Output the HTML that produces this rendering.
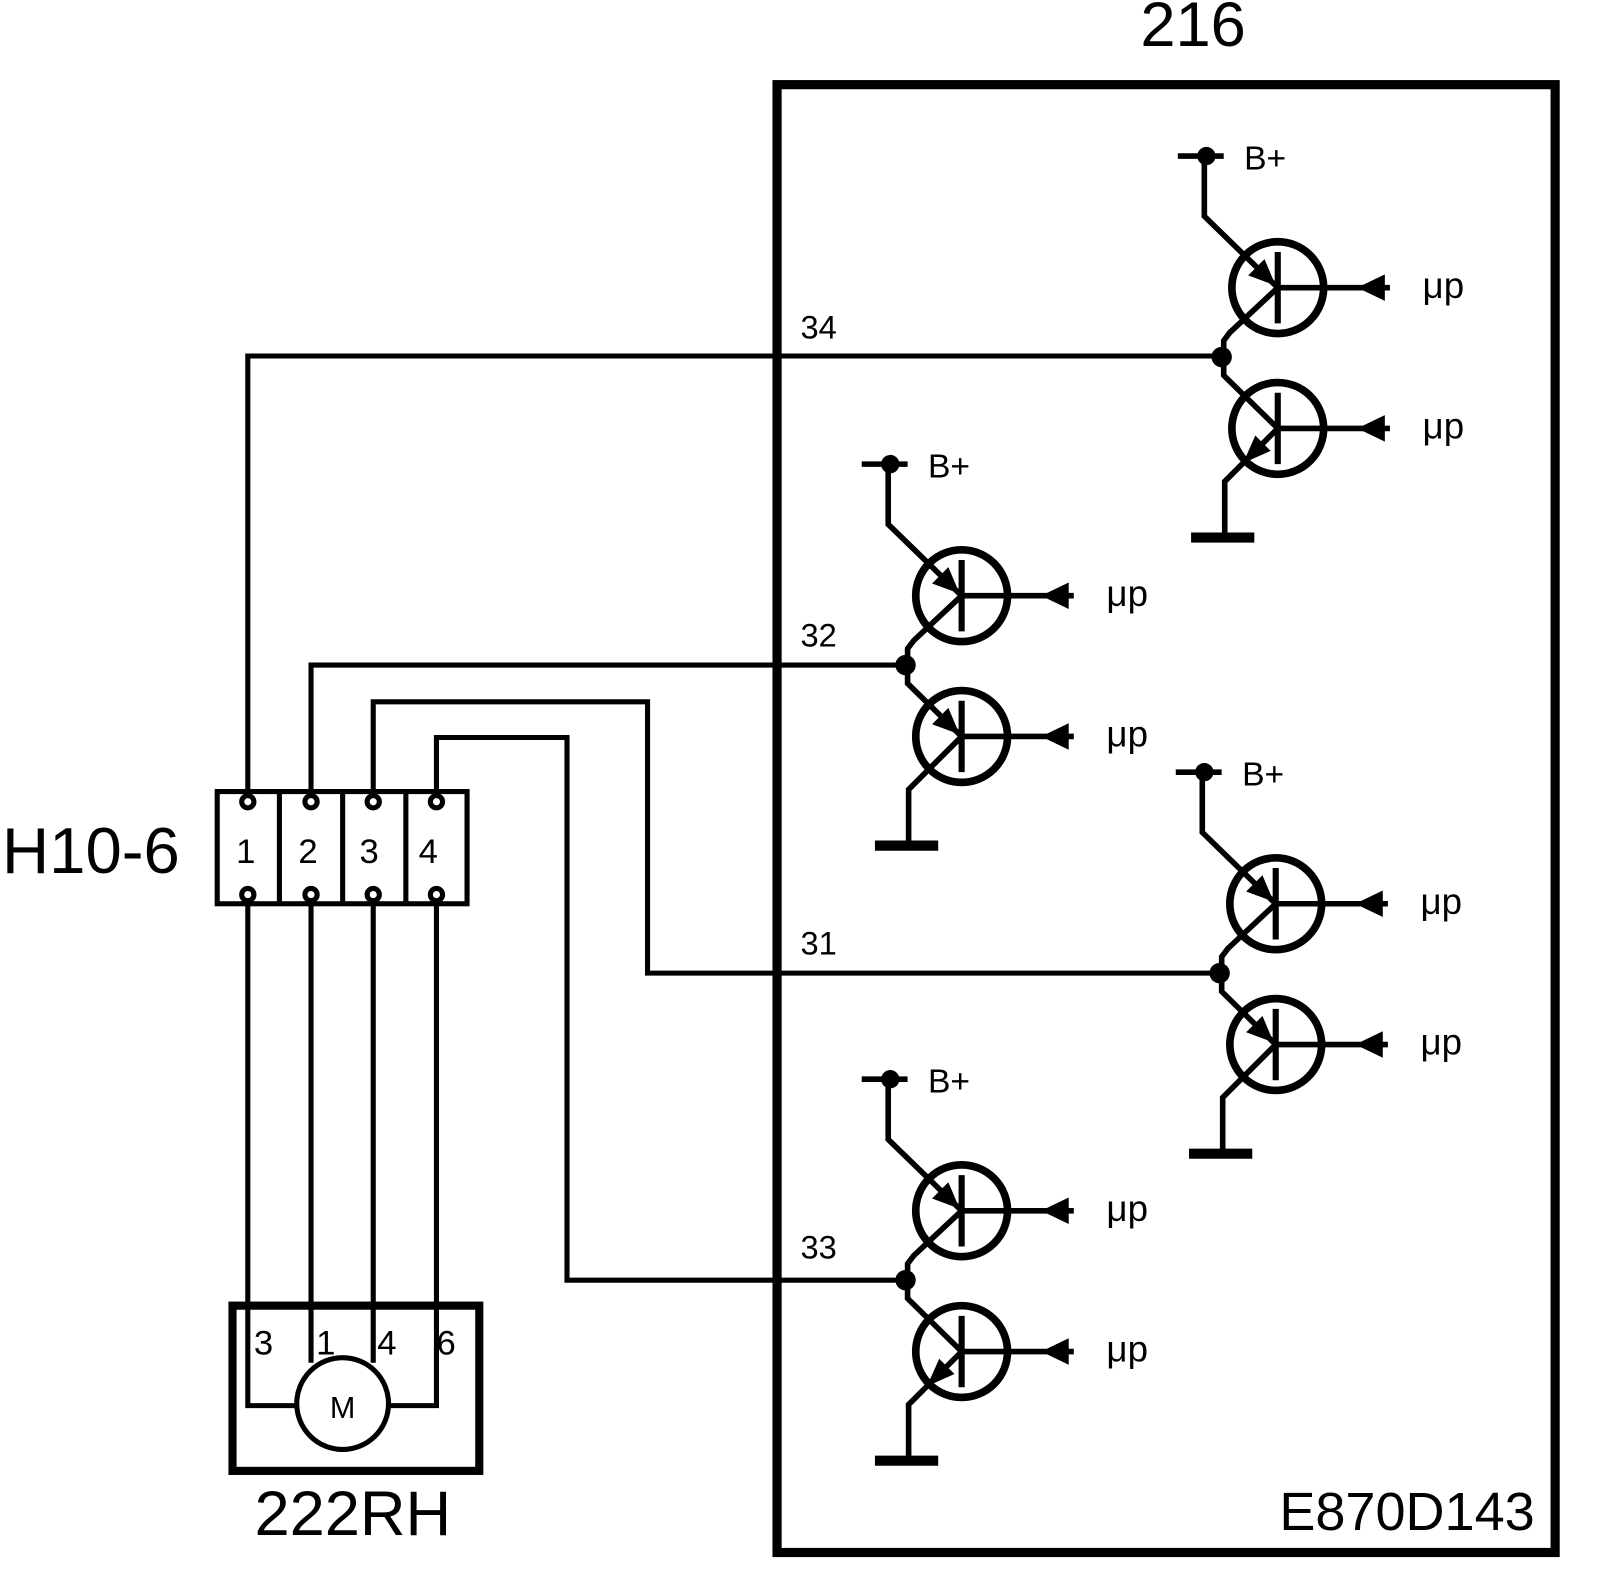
<!DOCTYPE html>
<html><head><meta charset="utf-8"><style>html,body{margin:0;padding:0;background:#fff}svg{display:block}</style></head>
<body>
<svg width="1600" height="1578" viewBox="0 0 1569 1547" preserveAspectRatio="none" xmlns="http://www.w3.org/2000/svg" font-family="Liberation Sans, Arial, sans-serif">
<defs>
<g id="top">
  <line x1="-43" y1="-197" x2="2" y2="-197" stroke="#000" stroke-width="5.5"/>
  <circle cx="-15" cy="-197" r="9" fill="#000"/>
  <text x="22" y="-184" font-size="33">B+</text>
  <polyline points="-17,-197 -17,-138 55,-68" fill="none" stroke="#000" stroke-width="5.5"/>
  <circle cx="55" cy="-68" r="45" fill="none" stroke="#000" stroke-width="7.5"/>
  <line x1="55" y1="-103" x2="55" y2="-33" stroke="#000" stroke-width="6"/>
  <line x1="55" y1="-68" x2="165" y2="-68" stroke="#000" stroke-width="5.5"/>
  <polygon points="133,-68 160,-81 160,-55" fill="#000"/>
  <text x="197" y="-58" font-size="36">μp</text>
  <polyline points="55,-68 8,-24 2,-16 2,0" fill="none" stroke="#000" stroke-width="5.5"/>
  <polygon points="53,-70 26,-80 42,-96" fill="#000"/>
  <circle cx="0" cy="0" r="10" fill="#000"/>
  <polyline points="2,0 2,18 55,70" fill="none" stroke="#000" stroke-width="5.5"/>
  <circle cx="55" cy="70" r="45" fill="none" stroke="#000" stroke-width="7.5"/>
  <line x1="55" y1="35" x2="55" y2="105" stroke="#000" stroke-width="6"/>
  <line x1="55" y1="70" x2="165" y2="70" stroke="#000" stroke-width="5.5"/>
  <polygon points="133,70 160,57 160,83" fill="#000"/>
  <text x="197" y="80" font-size="36">μp</text>
  <polyline points="55,70 3,122 3,177" fill="none" stroke="#000" stroke-width="5.5"/>
  <line x1="-30" y1="177" x2="32" y2="177" stroke="#000" stroke-width="10"/>
</g>
<polygon id="arrIn" points="53,68 26,58 42,42" fill="#000"/>
<polygon id="arrOut" points="21,104 48,92 33,77" fill="#000"/>
</defs>

<rect x="762" y="83" width="763" height="1439" fill="none" stroke="#000" stroke-width="9"/>
<text x="1170" y="45" font-size="62" text-anchor="middle">216</text>
<text x="1505" y="1500" font-size="53" text-anchor="end">E870D143</text>

<g transform="translate(1198,350)"><use href="#top"/><use href="#arrOut"/></g>
<g transform="translate(888,652)"><use href="#top"/><use href="#arrIn"/></g>
<g transform="translate(1196,954)"><use href="#top"/><use href="#arrIn"/></g>
<g transform="translate(888,1255)"><use href="#top"/><use href="#arrOut"/></g>

<text x="785" y="332" font-size="32">34</text>
<text x="785" y="634" font-size="32">32</text>
<text x="785" y="936" font-size="32">31</text>
<text x="785" y="1234" font-size="32">33</text>

<g fill="none" stroke="#000" stroke-width="5">
  <polyline points="243,780 243,349 1198,349"/>
  <polyline points="305,780 305,652 888,652"/>
  <polyline points="366,780 366,688 635,688 635,954 1196,954"/>
  <polyline points="428,780 428,723 556,723 556,1255 888,1255"/>
  <polyline points="243,880 243,1378 290,1378"/>
  <polyline points="305,880 305,1336"/>
  <polyline points="366,880 366,1336"/>
  <polyline points="428,880 428,1378 382,1378"/>
</g>

<rect x="213" y="776" width="245" height="110" fill="#fff" stroke="#000" stroke-width="5"/>
<g stroke="#000" stroke-width="5">
  <line x1="274" y1="776" x2="274" y2="886"/>
  <line x1="336" y1="776" x2="336" y2="886"/>
  <line x1="398" y1="776" x2="398" y2="886"/>
</g>
<g fill="#fff" stroke="#000" stroke-width="5">
  <circle cx="243" cy="786" r="6"/><circle cx="305" cy="786" r="6"/><circle cx="366" cy="786" r="6"/><circle cx="428" cy="786" r="6"/>
  <circle cx="243" cy="877" r="6"/><circle cx="305" cy="877" r="6"/><circle cx="366" cy="877" r="6"/><circle cx="428" cy="877" r="6"/>
</g>
<g font-size="34" text-anchor="middle">
  <text x="241" y="846">1</text><text x="302" y="846">2</text><text x="362" y="846">3</text><text x="420" y="846">4</text>
</g>
<text x="2" y="856" font-size="64">H10-6</text>

<rect x="228" y="1280" width="242" height="162" fill="none" stroke="#000" stroke-width="8"/>
<circle cx="336" cy="1376" r="45" fill="#fff" stroke="#000" stroke-width="5"/>
<text x="336" y="1390" font-size="30" text-anchor="middle">M</text>
<g font-size="34">
  <text x="249" y="1328">3</text><text x="310" y="1328">1</text><text x="370" y="1328">4</text><text x="428" y="1328">6</text>
</g>
<text x="346" y="1505" font-size="62" text-anchor="middle">222RH</text>
</svg>
</body></html>
